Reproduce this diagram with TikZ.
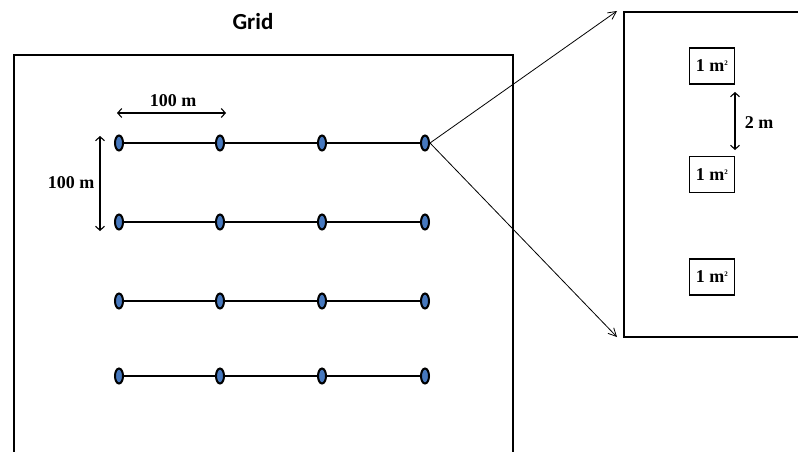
\documentclass[tikz,border=0pt]{standalone}
\usepackage{fontspec}
\setmainfont{Liberation Serif}
\newfontfamily\gridfont{Carlito}
\usetikzlibrary{arrows.meta,shapes.geometric}
\begin{document}
\begin{tikzpicture}[x=1pt,y=-1pt,
  site/.style={ellipse,draw=black,line width=2pt,fill=dotblue,minimum width=8pt,minimum height=15pt,inner sep=0pt},
  quad/.style={draw=black,line width=1.8pt,minimum width=45pt,minimum height=36pt,inner sep=0pt,font=\fontsize{18}{18}\selectfont\bfseries},
  frame/.style={draw=black,line width=1.9pt},
  dim/.style={line width=1.1pt,{Straight Barb[length=4pt,width=9pt]}-{Straight Barb[length=4pt,width=9pt]}},
  zoomline/.style={line width=0.8pt,-{Straight Barb[length=8pt,width=8pt]}},
  dimlabel/.style={font=\fontsize{18}{18}\selectfont\bfseries}
]
\definecolor{dotblue}{RGB}{70,120,190}
\useasboundingbox (0,0) rectangle (798,452);
% frames
\draw[frame] (14,470) -- (14,55) -- (513,55) -- (513,470);
\draw[frame] (810,12) -- (624,12) -- (624,337) -- (810,337);
\node[font=\gridfont\fontsize{23}{23}\selectfont\bfseries] (title) at (253,22) {Grid};
% grid rows
\foreach \r/\yy in {1/143,2/222,3/301,4/376}{
  \foreach \c/\xx in {1/119,2/220,3/322,4/425}{
    \coordinate (p\r\c) at (\xx,\yy);
  }
  \draw[line width=1.4pt] (p\r1) -- (p\r4);
  \foreach \c in {1,2,3,4}{
    \node[site] (s\r\c) at (p\r\c) {};
  }
}
% dimension arrows
\coordinate (ha) at (117,113);
\coordinate (hb) at (226,113);
\draw[dim] (ha) -- (hb);
\node[dimlabel] (hl) at (173,101) {100 m};
\coordinate (va) at (100,136);
\coordinate (vb) at (100,231);
\draw[dim] (va) -- (vb);
\node[dimlabel] (vl) at (71,183) {100 m};
% zoom lines
\coordinate (zt) at (617,11);
\coordinate (zb) at (617,337);
\draw[zoomline] (s14.east) -- (zt);
\draw[zoomline] (s14.east) -- (zb);
% quadrats
\node[quad] (q1) at (712,66) {1 m\textsuperscript{\scriptsize 2}};
\node[quad] (q2) at (712,174.5) {1 m\textsuperscript{\scriptsize 2}};
\node[quad] (q3) at (712,277) {1 m\textsuperscript{\scriptsize 2}};
\coordinate (qa) at (735,92);
\coordinate (qb) at (735,150);
\draw[dim] (qa) -- (qb);
\node[dimlabel] (ql) at (759,123) {2 m};
\end{tikzpicture}
\end{document}
